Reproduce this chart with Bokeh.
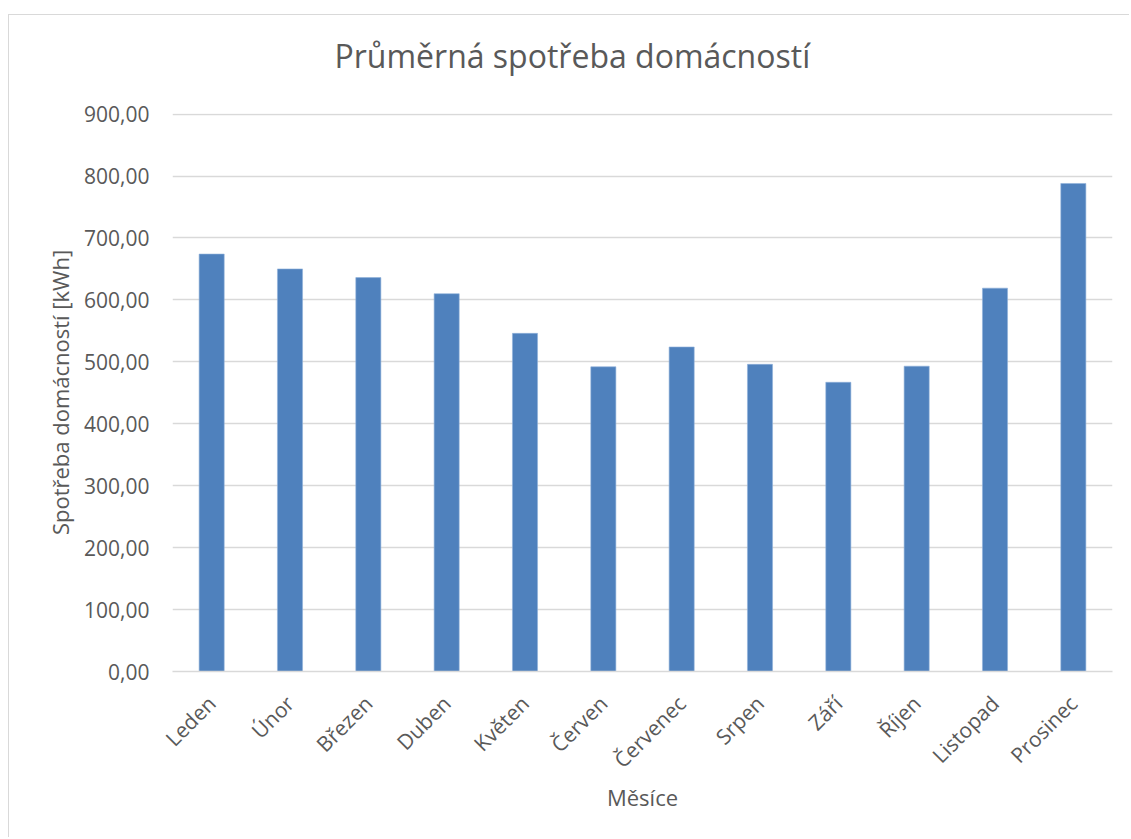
import math
from bokeh.plotting import figure
from bokeh.models import FactorRange, Range1d, FixedTicker, Title
from bokeh.embed import file_html
from bokeh.resources import INLINE

months = ["Leden", "Únor", "Březen", "Duben", "Květen", "Červen",
          "Červenec", "Srpen", "Září", "Říjen", "Listopad", "Prosinec"]
consumption = [674, 650, 636, 610, 546, 492, 524, 496, 467, 493, 619, 788]
y_ticks = [0, 100, 200, 300, 400, 500, 600, 700, 800, 900]
y_tick_labels = ["0,00", "100,00", "200,00", "300,00", "400,00",
                 "500,00", "600,00", "700,00", "800,00", "900,00"]

TEXT = "#595959"
GRID = "#d9d9d9"
FONT = "Open Sans"

p = figure(width=1121, height=823, output_backend="svg", toolbar_location=None,
           x_range=FactorRange(*months, range_padding=0),
           y_range=Range1d(0, 901),
           min_border_left=163, min_border_right=18, min_border_bottom=167,
           min_border_top=98)
p.styles = {"margin-left": "8px", "margin-top": "14px",
            "border-top": "1px solid #d9d9d9", "border-left": "1px solid #d9d9d9"}

# spacer between the plot area and the chart title
p.add_layout(Title(text=" ", text_font_size="1px", standoff=34), "above")
p.add_layout(Title(text="Průměrná spotřeba domácností", text_font=FONT,
                   text_font_size="32px", text_color=TEXT, text_font_style="normal",
                   align="left", offset=162, standoff=0), "above")

p.vbar(x=months, top=consumption, width=0.32, color="#4f81bd",
       line_color="#8fb0da", line_width=0.6)

p.outline_line_color = None
p.background_fill_color = "white"
p.border_fill_color = "white"

p.xgrid.grid_line_color = None
p.ygrid.grid_line_color = GRID
p.ygrid.grid_line_width = 1.3

p.yaxis.ticker = FixedTicker(ticks=y_ticks)
p.yaxis.major_label_overrides = {t: l for t, l in zip(y_ticks, y_tick_labels)}
p.yaxis.axis_line_color = None
p.yaxis.major_tick_line_color = None
p.yaxis.minor_tick_line_color = None
p.yaxis.major_label_standoff = 17
p.yaxis.axis_label = "Spotřeba domácností [kWh]"
p.yaxis.axis_label_standoff = 6

p.xaxis.axis_line_color = GRID
p.xaxis.axis_line_width = 1.3
p.xaxis.major_tick_line_color = None
p.xaxis.minor_tick_line_color = None
p.xaxis.major_label_orientation = math.pi / 4
p.xaxis.major_label_standoff = 22
p.xaxis.axis_label = "Měsíce"
p.xaxis.axis_label_standoff = -4

for ax in (p.xaxis[0], p.yaxis[0]):
    ax.major_label_text_font = FONT
    ax.major_label_text_font_size = "21px"
    ax.major_label_text_color = TEXT
    ax.axis_label_text_font = FONT
    ax.axis_label_text_font_size = "22px"
    ax.axis_label_text_color = TEXT
    ax.axis_label_text_font_style = "normal"

open("out.html", "w").write(file_html(p, INLINE))
